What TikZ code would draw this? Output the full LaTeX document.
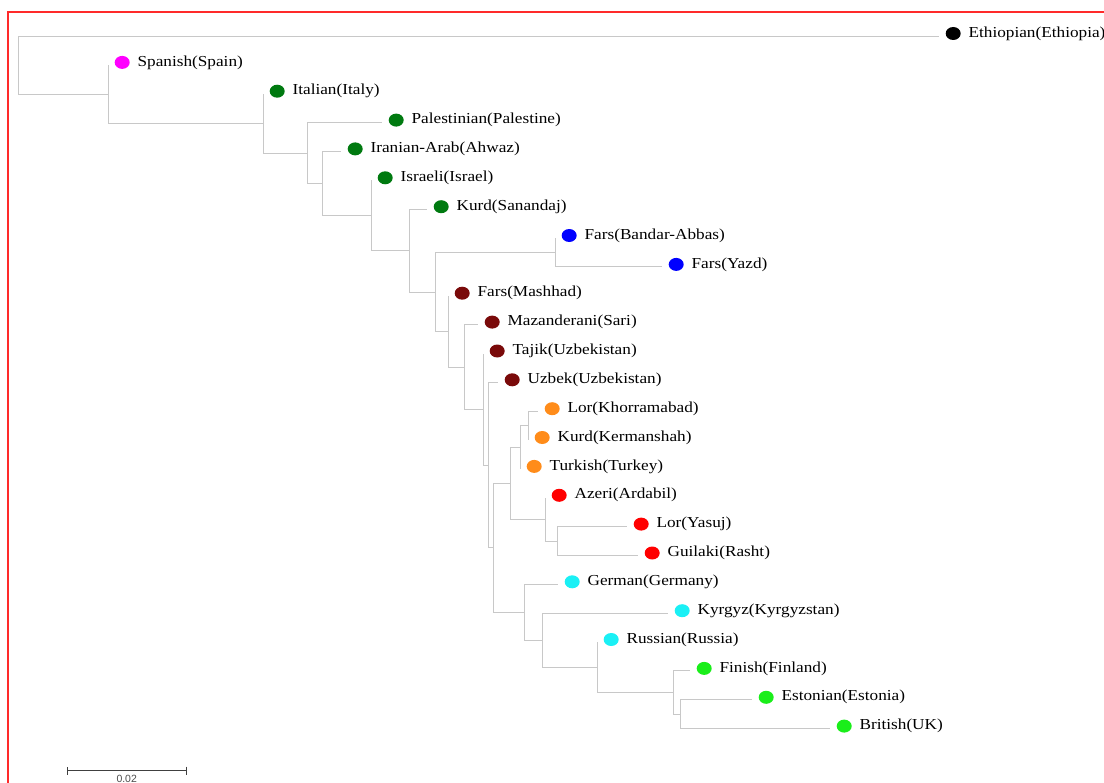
\documentclass[tikz,border=0pt]{standalone}
\usepackage{fontspec}
\newfontfamily\taxonfont[FakeStretch=1.13]{Liberation Serif}
\newfontfamily\barfont{Liberation Sans}
\usetikzlibrary{shapes.geometric,arrows.meta}

\definecolor{treeGrey}{HTML}{C8C8C8}
\definecolor{frameRed}{HTML}{FF2A2A}
\definecolor{dotBlack}{HTML}{000000}
\definecolor{dotMagenta}{HTML}{FF00FF}
\definecolor{dotGreen}{HTML}{007A10}
\definecolor{dotBlue}{HTML}{0000FF}
\definecolor{dotMaroon}{HTML}{7A0A0A}
\definecolor{dotOrange}{HTML}{FF8C1A}
\definecolor{dotRed}{HTML}{FF0000}
\definecolor{dotCyan}{HTML}{1AF0F5}
\definecolor{dotLime}{HTML}{1AEE1A}

\begin{document}
\begin{tikzpicture}[x=1bp, y=-1bp,
    branch/.style={draw=treeGrey, line width=0.9bp},
    elbow/.style={to path={|- (\tikztotarget)}},
    leaf/.style={ellipse, fill=#1, minimum width=15bp, minimum height=13bp,
      inner sep=0pt, anchor=west, xshift=6.5bp, yshift=2.5bp},
    taxon/.style={font=\taxonfont\fontsize{15.3}{16}\selectfont, inner sep=0pt, xshift=7.5bp}]
  \useasboundingbox[fill=white] (0,0) rectangle (1104,783);
  \draw[frameRed, line width=2bp] (8,783) -- (8,12) -- (1104,12);

  % Leaves
  \draw (939,36.0)  coordinate(tEth) node(Eth)[leaf=dotBlack,   label={[taxon]right:Ethiopian(Ethiopia)}] {};
  \draw (108,64.9)  coordinate(tSpa) node(Spa)[leaf=dotMagenta, label={[taxon]right:Spanish(Spain)}] {};
  \draw (263,93.7)  coordinate(tIta) node(Ita)[leaf=dotGreen,   label={[taxon]right:Italian(Italy)}] {};
  \draw (382,122.6) coordinate(tPal) node(Pal)[leaf=dotGreen,   label={[taxon]right:Palestinian(Palestine)}] {};
  \draw (341,151.4) coordinate(tAra) node(Ara)[leaf=dotGreen,   label={[taxon]right:Iranian-Arab(Ahwaz)}] {};
  \draw (371,180.3) coordinate(tIsr) node(Isr)[leaf=dotGreen,   label={[taxon]right:Israeli(Israel)}] {};
  \draw (427,209.2) coordinate(tKuS) node(KuS)[leaf=dotGreen,   label={[taxon]right:Kurd(Sanandaj)}] {};
  \draw (555,238.0) coordinate(tFaB) node(FaB)[leaf=dotBlue,    label={[taxon]right:Fars(Bandar-Abbas)}] {};
  \draw (662,266.9) coordinate(tFaY) node(FaY)[leaf=dotBlue,    label={[taxon]right:Fars(Yazd)}] {};
  \draw (448,295.7) coordinate(tFaM) node(FaM)[leaf=dotMaroon,  label={[taxon]right:Fars(Mashhad)}] {};
  \draw (478,324.6) coordinate(tMaz) node(Maz)[leaf=dotMaroon,  label={[taxon]right:Mazanderani(Sari)}] {};
  \draw (483,353.5) coordinate(tTaj) node(Taj)[leaf=dotMaroon,  label={[taxon]right:Tajik(Uzbekistan)}] {};
  \draw (498,382.3) coordinate(tUzb) node(Uzb)[leaf=dotMaroon,  label={[taxon]right:Uzbek(Uzbekistan)}] {};
  \draw (538,411.2) coordinate(tLoK) node(LoK)[leaf=dotOrange,  label={[taxon]right:Lor(Khorramabad)}] {};
  \draw (528,440.0) coordinate(tKuK) node(KuK)[leaf=dotOrange,  label={[taxon]right:Kurd(Kermanshah)}] {};
  \draw (520,468.9) coordinate(tTur) node(Tur)[leaf=dotOrange,  label={[taxon]right:Turkish(Turkey)}] {};
  \draw (545,497.8) coordinate(tAze) node(Aze)[leaf=dotRed,     label={[taxon]right:Azeri(Ardabil)}] {};
  \draw (627,526.6) coordinate(tLoY) node(LoY)[leaf=dotRed,     label={[taxon]right:Lor(Yasuj)}] {};
  \draw (638,555.5) coordinate(tGui) node(Gui)[leaf=dotRed,     label={[taxon]right:Guilaki(Rasht)}] {};
  \draw (558,584.3) coordinate(tGer) node(Ger)[leaf=dotCyan,    label={[taxon]right:German(Germany)}] {};
  \draw (668,613.2) coordinate(tKyr) node(Kyr)[leaf=dotCyan,    label={[taxon]right:Kyrgyz(Kyrgyzstan)}] {};
  \draw (597,642.0) coordinate(tRus) node(Rus)[leaf=dotCyan,    label={[taxon]right:Russian(Russia)}] {};
  \draw (690,670.9) coordinate(tFin) node(Fin)[leaf=dotLime,    label={[taxon]right:Finish(Finland)}] {};
  \draw (752,699.8) coordinate(tEst) node(Est)[leaf=dotLime,    label={[taxon]right:Estonian(Estonia)}] {};
  \draw (830,728.6) coordinate(tBri) node(Bri)[leaf=dotLime,    label={[taxon]right:British(UK)}] {};

  % Branch points
  \coordinate (n1)  at (18,65.1);
  \coordinate (n2)  at (108,94.2);
  \coordinate (n3)  at (263,123.4);
  \coordinate (n4)  at (307,153.1);
  \coordinate (n5)  at (322,183.5);
  \coordinate (n6)  at (371,215.5);
  \coordinate (n7)  at (409,250.6);
  \coordinate (n8)  at (435,292.0);
  \coordinate (n9)  at (555,252.5);
  \coordinate (n10) at (448,331.4);
  \coordinate (n11) at (464,367.0);
  \coordinate (n12) at (483,409.3);
  \coordinate (n13) at (488,465.1);
  \coordinate (n14) at (493,547.9);
  \coordinate (n15) at (510,483.4);
  \coordinate (n16) at (520,447.3);
  \coordinate (n17) at (528,425.6);
  \coordinate (n18) at (545,519.5);
  \coordinate (n19) at (557,541.1);
  \coordinate (n20) at (524,612.3);
  \coordinate (n21) at (542,640.3);
  \coordinate (n22) at (597,667.3);
  \coordinate (n23) at (673,692.6);
  \coordinate (n24) at (680,714.2);

  % Edges
  \path[branch] (n1)  edge[elbow] (tEth) edge[elbow] (n2);
  \path[branch] (n2)  edge[elbow] (tSpa) edge[elbow] (n3);
  \path[branch] (n3)  edge[elbow] (tIta) edge[elbow] (n4);
  \path[branch] (n4)  edge[elbow] (tPal) edge[elbow] (n5);
  \path[branch] (n5)  edge[elbow] (tAra) edge[elbow] (n6);
  \path[branch] (n6)  edge[elbow] (tIsr) edge[elbow] (n7);
  \path[branch] (n7)  edge[elbow] (tKuS) edge[elbow] (n8);
  \path[branch] (n8)  edge[elbow] (n9)   edge[elbow] (n10);
  \path[branch] (n9)  edge[elbow] (tFaB) edge[elbow] (tFaY);
  \path[branch] (n10) edge[elbow] (tFaM) edge[elbow] (n11);
  \path[branch] (n11) edge[elbow] (tMaz) edge[elbow] (n12);
  \path[branch] (n12) edge[elbow] (tTaj) edge[elbow] (n13);
  \path[branch] (n13) edge[elbow] (tUzb) edge[elbow] (n14);
  \path[branch] (n14) edge[elbow] (n15)  edge[elbow] (n20);
  \path[branch] (n15) edge[elbow] (n16)  edge[elbow] (n18);
  \path[branch] (n16) edge[elbow] (n17)  edge[elbow] (tTur);
  \path[branch] (n17) edge[elbow] (tLoK) edge[elbow] (tKuK);
  \path[branch] (n18) edge[elbow] (tAze) edge[elbow] (n19);
  \path[branch] (n19) edge[elbow] (tLoY) edge[elbow] (tGui);
  \path[branch] (n20) edge[elbow] (tGer) edge[elbow] (n21);
  \path[branch] (n21) edge[elbow] (tKyr) edge[elbow] (n22);
  \path[branch] (n22) edge[elbow] (tRus) edge[elbow] (n23);
  \path[branch] (n23) edge[elbow] (tFin) edge[elbow] (n24);
  \path[branch] (n24) edge[elbow] (tEst) edge[elbow] (tBri);

  % Scale bar
  \coordinate (sbL) at (66.7,770.7);
  \coordinate (sbR) at (186.7,770.7);
  \draw[black!75, line width=0.9bp, {Bar[width=8bp, line width=0.9bp]}-{Bar[width=8bp, line width=0.9bp]}] (sbL) -- (sbR);
  \node[font=\barfont\fontsize{10.5}{11}\selectfont, text=black!70, inner sep=0pt] (sbText) at (126.7,778.5) {0.02};
\end{tikzpicture}
\end{document}
